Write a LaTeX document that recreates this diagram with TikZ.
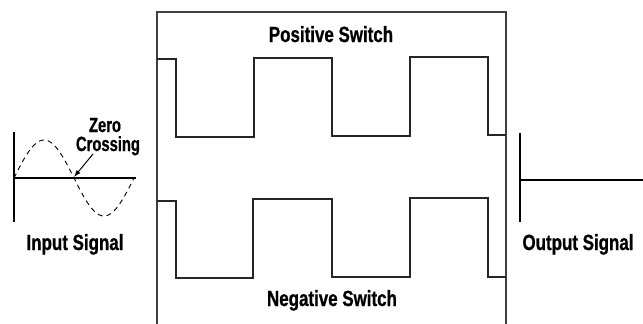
\documentclass[tikz,border=0pt]{standalone}
\usepackage{fontspec}
\setmainfont{Liberation Sans}
\newfontfamily\labfont{Liberation Sans Bold}[FakeStretch=0.77,FakeBold=0.8]
\newfontfamily\zcfont{Liberation Sans Bold}[FakeStretch=0.72,FakeBold=0.8]
\usetikzlibrary{arrows.meta}
\begin{document}
\begin{tikzpicture}[x=1pt,y=-1pt,
  lab/.style={inner sep=0pt,anchor=base,font=\labfont\fontsize{22}{22}\selectfont},
  zc/.style={inner sep=0pt,anchor=base,font=\zcfont\fontsize{20.5}{20.5}\selectfont},
  boxline/.style={draw=black!75,line width=1.4pt},
  wave/.style={draw=black!85,line width=1.1pt},
  axis/.style={draw=black,line width=2.4pt},
  sine/.style={draw=black,line width=0.9pt,dash pattern=on 5pt off 4pt}]
\useasboundingbox (0,0) rectangle (643,324);
% switch box (open at bottom)
\draw[boxline] (157,330) -- (157,12) -- (506,12) -- (506,330);
\node[lab] (pos) at (331,42) {Positive Switch};
\node[lab] (neg) at (332,306) {Negative Switch};
% positive switch waveform
\draw[wave] (157,59) -- (176,59) -- (176,137) -- (254,137) -- (254,58) -- (332,58) -- (332,136) -- (410,136) -- (410,57) -- (488,57) -- (488,135) -- (506,135);
% negative switch waveform
\draw[wave] (157,201) -- (176,201) -- (176,278) -- (253,278) -- (253,199) -- (332,199) -- (332,277) -- (410,277) -- (410,198) -- (488,198) -- (488,277) -- (506,277);
% input signal
\coordinate (inTop) at (14,132);
\coordinate (inBot) at (14,222);
\coordinate (inL) at (14,178);
\coordinate (inR) at (136,178);
\draw[axis] (inTop) -- (inBot);
\draw[axis] (inL) -- (inR);
\draw[sine] plot[domain=14:134,samples=80] (\x,{178-38*sin((\x-14)*3)});
\node[zc] (zero) at (105,132) {Zero};
\node[zc] (cross) at (108,151) {Crossing};
\coordinate (zcpt) at (74,177);
\coordinate (arrs) at (93,154);
\draw[line width=1pt,-{Latex[length=7pt,width=5pt]}] (arrs) -- (zcpt);
\node[lab] (insig) at (75,250) {Input Signal};
% output signal
\coordinate (outTop) at (520,133);
\coordinate (outBot) at (520,222);
\coordinate (outL) at (520,180);
\coordinate (outR) at (643,180);
\draw[axis] (outTop) -- (outBot);
\draw[line width=2pt] (outL) -- (outR);
\node[lab] (outsig) at (578,250) {Output Signal};
\end{tikzpicture}
\end{document}
